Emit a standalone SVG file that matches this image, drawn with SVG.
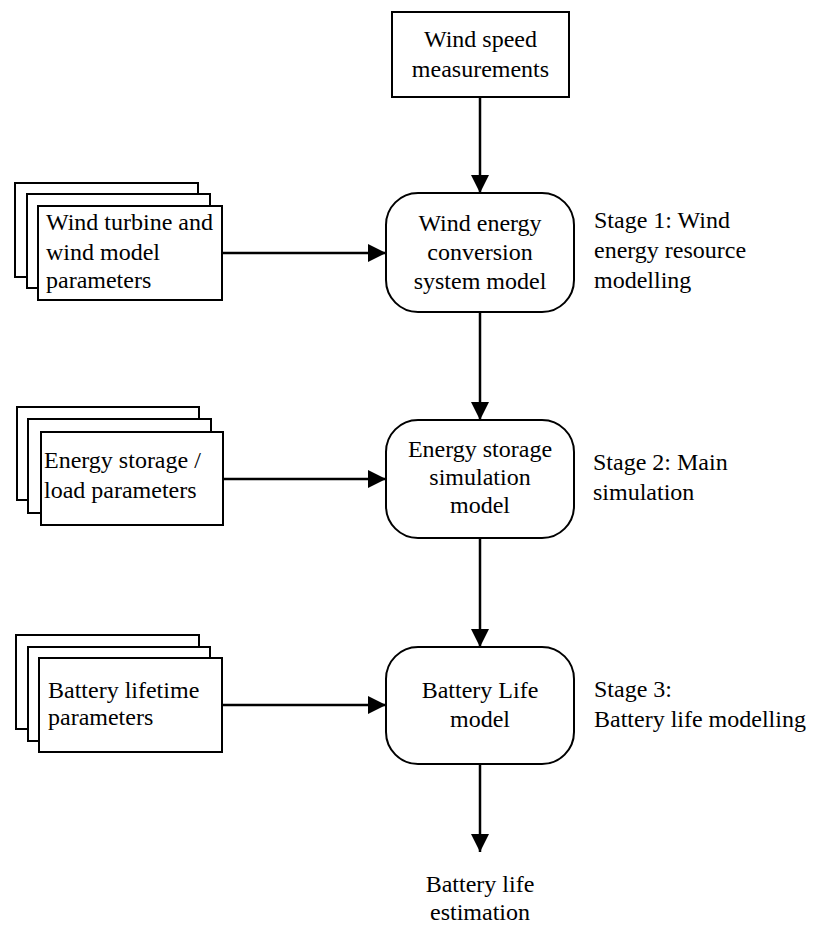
<svg xmlns="http://www.w3.org/2000/svg" width="816" height="925" viewBox="0 0 816 925">
  <style>
    text { font-family: 'Liberation Serif', 'Times New Roman', serif; font-size: 24px; fill: #000; }
    .c { text-anchor: middle; }
    .box { fill: #fff; stroke: #000; stroke-width: 2; }
    .link { fill: none; stroke: #000; stroke-width: 2.5; }
  </style>
  <defs>
    <marker id="arrow" viewBox="0 0 10 10" refX="10" refY="5" markerWidth="18" markerHeight="18" markerUnits="userSpaceOnUse" orient="auto">
      <path d="M0,0 L10,5 L0,10 Z" fill="#000"/>
    </marker>
  </defs>

  <rect width="816" height="925" fill="#fff"/>

  <!-- source -->
  <g id="wind-speed">
    <rect class="box" x="392" y="12" width="177" height="85"/>
    <text class="c" x="480.5" y="47">Wind speed</text>
    <text class="c" x="480.5" y="77">measurements</text>
  </g>

  <!-- stacked parameter inputs -->
  <g id="turbine-params">
    <rect class="box" x="15" y="183" width="183" height="94"/>
    <rect class="box" x="27" y="194" width="183" height="94"/>
    <rect class="box" x="38" y="206" width="184" height="94"/>
    <text x="46" y="230">Wind turbine and</text>
    <text x="46" y="260">wind model</text>
    <text x="46" y="288">parameters</text>
  </g>

  <g id="storage-params">
    <rect class="box" x="17" y="407" width="182" height="93"/>
    <rect class="box" x="28" y="419" width="183" height="94"/>
    <rect class="box" x="41" y="432" width="182" height="93"/>
    <text x="44" y="468">Energy storage /</text>
    <text x="44" y="498">load parameters</text>
  </g>

  <g id="battery-params">
    <rect class="box" x="16" y="635" width="183" height="94"/>
    <rect class="box" x="28" y="647" width="182" height="94"/>
    <rect class="box" x="39" y="658" width="183" height="94"/>
    <text x="48" y="698">Battery lifetime</text>
    <text x="48" y="725">parameters</text>
  </g>

  <!-- model stages -->
  <g id="wecs-model">
    <rect class="box" x="386" y="193" width="188" height="119" rx="32" ry="32"/>
    <text class="c" x="480" y="231">Wind energy</text>
    <text class="c" x="480" y="260">conversion</text>
    <text class="c" x="480" y="289">system model</text>
  </g>

  <g id="storage-model">
    <rect class="box" x="386" y="420" width="188" height="118" rx="32" ry="32"/>
    <text class="c" x="480" y="457">Energy storage</text>
    <text class="c" x="480" y="485">simulation</text>
    <text class="c" x="480" y="513">model</text>
  </g>

  <g id="battery-model">
    <rect class="box" x="386" y="647" width="188" height="117" rx="32" ry="32"/>
    <text class="c" x="480" y="698">Battery Life</text>
    <text class="c" x="480" y="727">model</text>
  </g>

  <!-- stage captions -->
  <g id="stage1">
    <text x="594" y="228">Stage 1: Wind</text>
    <text x="594" y="258">energy resource</text>
    <text x="594" y="288">modelling</text>
  </g>
  <g id="stage2">
    <text x="593" y="470">Stage 2: Main</text>
    <text x="593" y="500">simulation</text>
  </g>
  <g id="stage3">
    <text x="594" y="697">Stage 3:</text>
    <text x="594" y="727">Battery life modelling</text>
  </g>

  <g id="output">
    <text class="c" x="480" y="892">Battery life</text>
    <text class="c" x="480" y="920">estimation</text>
  </g>

  <!-- connectors -->
  <g id="connectors">
    <line class="link" x1="480" y1="97" x2="480" y2="193" marker-end="url(#arrow)"/>
    <line class="link" x1="222" y1="253" x2="386" y2="253" marker-end="url(#arrow)"/>
    <line class="link" x1="480" y1="312" x2="480" y2="420" marker-end="url(#arrow)"/>
    <line class="link" x1="223" y1="479" x2="386" y2="479" marker-end="url(#arrow)"/>
    <line class="link" x1="480" y1="538" x2="480" y2="647" marker-end="url(#arrow)"/>
    <line class="link" x1="222" y1="705" x2="386" y2="705" marker-end="url(#arrow)"/>
    <line class="link" x1="480" y1="764" x2="480" y2="852" marker-end="url(#arrow)"/>
  </g>
</svg>
